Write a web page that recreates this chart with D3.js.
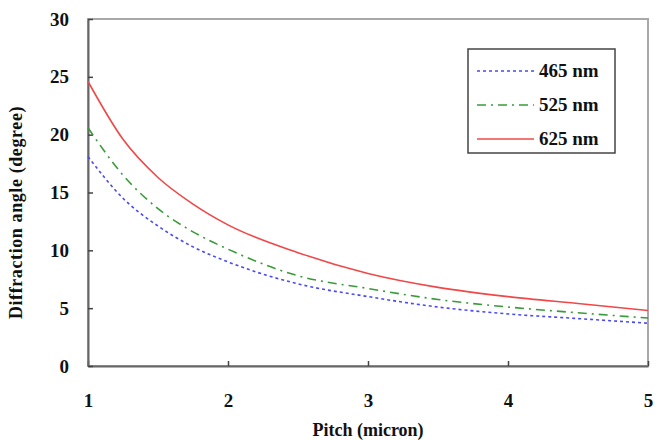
<!DOCTYPE html>
<html>
<head>
<meta charset="utf-8">
<script src="https://cdn.jsdelivr.net/npm/d3@7"></script>
<style>
  body { margin: 0; background: #fff; }
  svg text { font-family: 'Liberation Serif' !important; font-weight: bold !important; }
</style>
</head>
<body>
<script>
let width = 660,
    height = 440,
    margin = ({ top: 19, right: 12, bottom: 74, left: 88 });

// pitch (micron)
const pitch = [1, 1.25, 1.5, 1.75, 2, 2.5, 3, 3.5, 4, 4.5, 5];
// diffraction angle (degree)
const nm465 = [18.1, 14.5, 12.1, 10.3, 9.0, 7.1, 6.0, 5.1, 4.5, 4.1, 3.7];
const nm525 = [20.6, 16.5, 13.6, 11.6, 10.1, 7.8, 6.7, 5.75, 5.1, 4.6, 4.15];
const nm625 = [24.6, 19.6, 16.3, 14.0, 12.2, 9.8, 8.0, 6.8, 6.0, 5.4, 4.8];

const xTicks = [1, 2, 3, 4, 5];
const yTicks = [0, 5, 10, 15, 20, 25, 30];

const series = [
  { name: "465 nm", values: nm465, color: "#4a4af0", dash: "3,3" },
  { name: "525 nm", values: nm525, color: "#3a9a3a", dash: "9,5,2,5" },
  { name: "625 nm", values: nm625, color: "#f04848", dash: null }
];

// every label gets its font inline
function font(sel, size) {
  sel.attr("font-family", "Liberation Serif")
    .attr("font-weight", "bold")
    .attr("font-size", size)
    .attr("fill", "#111")
    .each(function() { this.style.setProperty("font-family", "'Liberation Serif'", "important"); });
}

const svg = d3.select("body")
  .append("svg")
  .attr("width", width)
  .attr("height", height)
  .style("display", "block");

let x = d3.scaleLinear()
  .domain([1, 5])
  .range([margin.left, width - margin.right]);

let y = d3.scaleLinear()
  .domain([0, 30])
  .range([height - margin.bottom, margin.top]);

// frame: top and right lighter
svg.append("rect")
  .attr("x", x(1)).attr("y", y(30))
  .attr("width", x(5) - x(1)).attr("height", y(0) - y(30))
  .attr("fill", "none")
  .attr("stroke", "#a8a8a8")
  .attr("stroke-width", 2);

const xAxis = svg.append("g")
  .attr("transform", `translate(0,${y(0)})`)
  .call(d3.axisBottom(x).tickValues(xTicks).tickSizeInner(-5).tickSizeOuter(0).tickPadding(28).tickFormat(d3.format("d")));

const yAxis = svg.append("g")
  .attr("transform", `translate(${x(1)},0)`)
  .call(d3.axisLeft(y).tickValues(yTicks).tickSizeInner(-5).tickSizeOuter(0).tickPadding(19));

for (let g of [xAxis, yAxis]) {
  g.attr("font-family", "Liberation Serif").attr("font-size", 19);
  g.select(".domain").attr("stroke", "#666").attr("stroke-width", 2);
  g.selectAll(".tick line").attr("stroke", "#444").attr("stroke-width", 1.5);
  g.selectAll(".tick text").call(font, 19);
}

svg.append("text")
  .attr("x", x(3))
  .attr("y", 436)
  .attr("text-anchor", "middle")
  .call(font, 18)
  .text("Pitch (micron)");

svg.append("text")
  .attr("transform", `translate(22,${(y(0) + y(30)) / 2 + 20}) rotate(-90)`)
  .attr("text-anchor", "middle")
  .call(font, 18)
  .attr("letter-spacing", 0.6)
  .text("Diffraction angle (degree)");

const line = d3.line()
  .x((d, i) => x(pitch[i]))
  .y(d => y(d))
  .curve(d3.curveMonotoneX);

svg.append("g")
  .selectAll("path")
  .data(series)
  .join("path")
  .attr("fill", "none")
  .attr("stroke", d => d.color)
  .attr("stroke-width", 1.6)
  .attr("stroke-dasharray", d => d.dash)
  .attr("d", d => line(d.values));

// legend
const legend = svg.append("g");
legend.append("rect")
  .attr("x", 468).attr("y", 49)
  .attr("width", 147).attr("height", 104)
  .attr("fill", "#fff")
  .attr("stroke", "#444")
  .attr("stroke-width", 1.5);

const item = legend.selectAll("g")
  .data(series)
  .join("g")
  .attr("transform", (d, i) => `translate(0,${71 + i * 34})`);

item.append("line")
  .attr("x1", 477).attr("x2", 534)
  .attr("stroke", d => d.color)
  .attr("stroke-width", 1.6)
  .attr("stroke-dasharray", d => d.dash);

item.append("text")
  .attr("x", 539)
  .attr("y", 6)
  .call(font, 19)
  .text(d => d.name);
</script>
</body>
</html>
